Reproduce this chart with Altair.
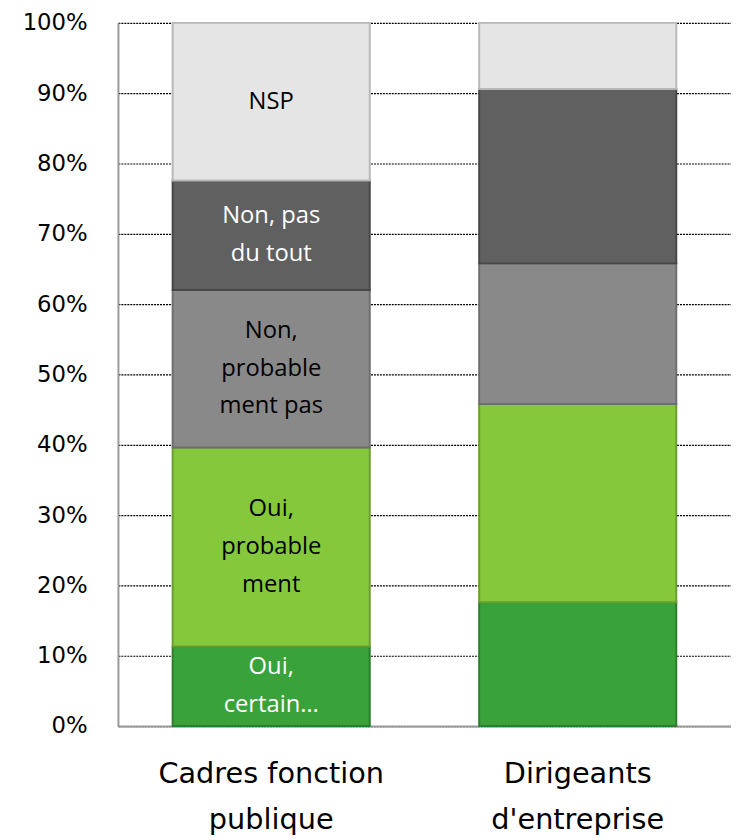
import altair as alt
import pandas as pd

categories = ["Cadres fonction|publique", "Dirigeants|d'entreprise"]
responses = ["Oui, certainement", "Oui, probablement", "Non, probablement pas", "Non, pas du tout", "NSP"]
labels_in_bar = ["Oui,\ncertain…", "Oui,\nprobable\nment", "Non,\nprobable\nment pas", "Non, pas\ndu tout", "NSP"]
cadres = [11.3, 28.3, 22.4, 15.6, 22.4]
dirigeants = [17.6, 28.2, 20.0, 24.8, 9.4]
fill_colors = ["#3AA23A", "#86C83B", "#898989", "#606060", "#E5E5E5"]
stroke_colors = ["#2C7D2C", "#6A9E2E", "#6E6E6E", "#474747", "#B8B8B8"]
text_colors = ["white", "black", "black", "white", "black"]

rows = []
for ci, (cat, vals) in enumerate(zip(categories, [cadres, dirigeants])):
    for i, (r, v) in enumerate(zip(responses, vals)):
        lab = labels_in_bar[i] if ci == 0 else ""
        rows.append({
            "cat": cat, "resp": r, "order": i, "value": v,
            "lab": lab, "nlines": lab.count("\n") + 1 if lab else 1,
            "tcol": text_colors[i],
        })
df = pd.DataFrame(rows)

PLOT_H = 710
LINE_H = 38

x = alt.X("cat:N", sort=categories,
          scale=alt.Scale(paddingInner=0.357, paddingOuter=0.1785),
          axis=alt.Axis(title=None, labelExpr="split(datum.label, '|')", labelAngle=0,
                        labelFontSize=29, labelLineHeight=46, labelPadding=34,
                        labelLimit=500,
                        labelColor="#000000", labelFont="DejaVu Sans",
                        domainColor="#9A9A9A", domainWidth=2, ticks=False))

base = alt.Chart(df).transform_stack(
    stack="value", groupby=["cat"], as_=["y0", "y1"],
    sort=[alt.SortField("order", order="ascending")]
)

bars = base.mark_bar(strokeWidth=2).encode(
    x=x,
    y=alt.Y("y0:Q", scale=alt.Scale(domain=[0, 100], nice=False),
            axis=alt.Axis(title=None, values=list(range(0, 101, 10)),
                          labelExpr="datum.value + '%'", labelFontSize=23,
                          labelFont="DejaVu Sans", labelColor="#000000",
                          labelPadding=31, ticks=False,
                          domainColor="#9A9A9A", domainWidth=2,
                          grid=True, gridColor="#000000", gridDash=[2, 1],
                          gridWidth=1.2)),
    y2="y1:Q",
    color=alt.Color("resp:N", sort=responses,
                    scale=alt.Scale(domain=responses, range=fill_colors), legend=None),
    stroke=alt.Stroke("resp:N", sort=responses,
                      scale=alt.Scale(domain=responses, range=stroke_colors), legend=None),
)

# shift multi-line labels so the text block is centred on the segment
texts = base.transform_calculate(
    ty=f"(datum.y0 + datum.y1) / 2 + (datum.nlines - 1) * {LINE_H / 2} * 100 / {PLOT_H}"
).mark_text(fontSize=24, font="Open Sans", lineBreak="\n", lineHeight=LINE_H,
            baseline="middle", align="center").encode(
    x=alt.X("cat:N", sort=categories),
    y=alt.Y("ty:Q"),
    text="lab:N",
    color=alt.Color("tcol:N", scale=None),
)

chart = alt.layer(bars, texts).properties(
    width=619, height=PLOT_H,
    padding={"left": 14, "top": 0, "right": 0, "bottom": 0},
).configure_view(stroke=None)

chart.save("out.html", embed_options={"renderer": "svg", "actions": False})
